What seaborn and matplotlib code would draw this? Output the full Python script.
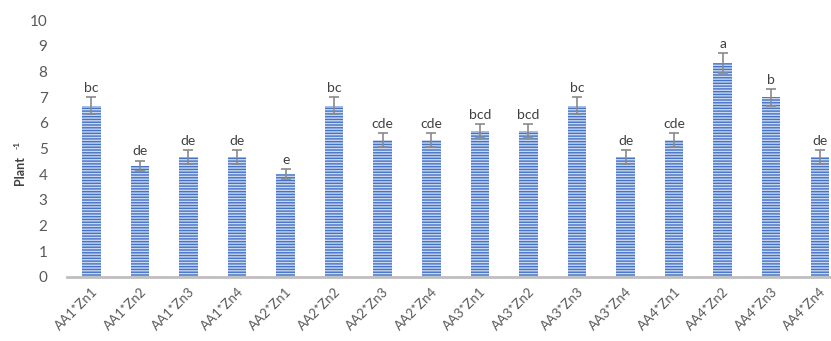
import matplotlib
matplotlib.use("Agg")
import matplotlib.pyplot as plt
import seaborn as sns
import pandas as pd

treatments = ["AA1*Zn1", "AA1*Zn2", "AA1*Zn3", "AA1*Zn4",
              "AA2*Zn1", "AA2*Zn2", "AA2*Zn3", "AA2*Zn4",
              "AA3*Zn1", "AA3*Zn2", "AA3*Zn3", "AA3*Zn4",
              "AA4*Zn1", "AA4*Zn2", "AA4*Zn3", "AA4*Zn4"]
means = [6.67, 4.33, 4.67, 4.67, 4.0, 6.67, 5.33, 5.33,
         5.67, 5.67, 6.67, 4.67, 5.33, 8.33, 7.0, 4.67]
errors = [0.33, 0.2, 0.27, 0.27, 0.2, 0.33, 0.27, 0.27,
          0.27, 0.27, 0.33, 0.27, 0.27, 0.4, 0.33, 0.27]
letters = ["bc", "de", "de", "de", "e", "bc", "cde", "cde",
           "bcd", "bcd", "bc", "de", "cde", "a", "b", "de"]
y_ticks = list(range(0, 11))

sns.set_style("white")
plt.rcParams["font.family"] = ["Lato", "DejaVu Sans"]
plt.rcParams["hatch.linewidth"] = 1.0
plt.rcParams["hatch.color"] = "#c9d8f2"

df = pd.DataFrame({"treatment": treatments, "mean": means})

fig = plt.figure(figsize=(8.31, 3.41), dpi=100)
ax = fig.add_axes([67 / 831, (341 - 277) / 341, 1 - 67 / 831, 257 / 341])

sns.barplot(data=df, x="treatment", y="mean", ax=ax, width=0.38,
            color="#4472c4", saturation=1, errorbar=None)
for p in ax.patches:
    p.set_hatch("------")
    p.set_edgecolor("#c9d8f2")
    p.set_linewidth(0)

ax.errorbar(range(len(means)), means, yerr=errors, fmt="none",
            ecolor="#8a8a8a", elinewidth=1.2, capsize=3.5, capthick=1.2)

for i, (m, e, t) in enumerate(zip(means, errors, letters)):
    ax.text(i, m + e + 0.12, t, ha="center", va="bottom",
            fontsize=10, color="#404040")

ax.set_ylim(0, 10)
ax.set_xlim(-0.5, 15.23)
ax.set_yticks(y_ticks)
ax.tick_params(axis="y", labelsize=11, colors="#595959", length=0, pad=14)
ax.tick_params(axis="x", labelsize=9.5, colors="#595959", length=0, pad=6)
plt.setp(ax.get_xticklabels(), rotation=45, ha="right", rotation_mode="anchor")

ax.set_xlabel("")
ax.set_ylabel("")
# y-axis title with a small raised "-1"
fig.text(20 / 831, 0.5, "Plant", rotation=90, ha="center", va="center",
         fontsize=9, fontweight="bold", color="#404040")
fig.text(17 / 831, 0.5 + 25 / 341, "-1", rotation=90, ha="center", va="center",
         fontsize=6, fontweight="bold", color="#404040")

for side in ["top", "right", "left"]:
    ax.spines[side].set_visible(False)
ax.spines["bottom"].set_color("#bfbfbf")
ax.spines["bottom"].set_linewidth(2)

fig.savefig("out.png", dpi=100)
